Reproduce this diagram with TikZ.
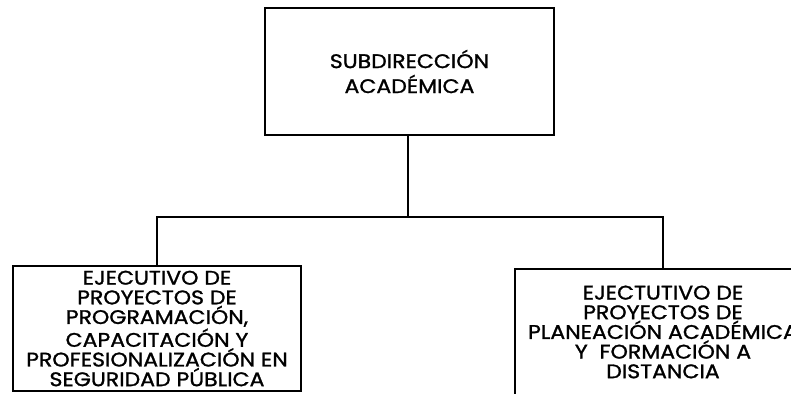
\documentclass[tikz,border=0pt]{standalone}
\usepackage{fontspec}
\setmainfont{Poppins}[FakeStretch=1.12,FakeBold=1.3]
\begin{document}
\begin{tikzpicture}[x=0.02cm,y=0.02cm]
% Styles for the boxes
\tikzset{unitbox/.style={draw,line width=1.1pt,align=center,inner sep=0pt},
         topfont/.style={font=\fontsize{11.2}{14.2}\selectfont},
         lowfont/.style={font=\fontsize{11.2}{11.2}\selectfont}}
\useasboundingbox (0,0) rectangle (791,393);
\clip (0,0) rectangle (791,393);

% the boxes
\node [unitbox,topfont,minimum width=5.78cm,minimum height=2.54cm] (sub) at (409.5,321.5)
  {SUBDIRECCIÓN\\ACADÉMICA};
\node [unitbox,lowfont,minimum width=5.76cm,minimum height=2.5cm] (prog) at (157,64.5)
  {EJECUTIVO DE\\PROYECTOS DE\\PROGRAMACIÓN,\\CAPACITACIÓN Y\\PROFESIONALIZACIÓN EN\\SEGURIDAD PÚBLICA};
\node [unitbox,lowfont,minimum width=5.92cm,minimum height=2.52cm] (plan) at (663,61)
  {EJECTUTIVO DE\\PROYECTOS DE\\PLANEACIÓN ACADÉMICA\\Y\ \ FORMACIÓN A\\DISTANCIA};

% the connectors
\coordinate (split) at (408,176);
\draw [line width=1.1pt] (sub.south -| split) -- (split);
\draw [line width=1.1pt] (split) -| (prog.north);
\draw [line width=1.1pt] (split) -| (plan.north);
\end{tikzpicture}
\end{document}
